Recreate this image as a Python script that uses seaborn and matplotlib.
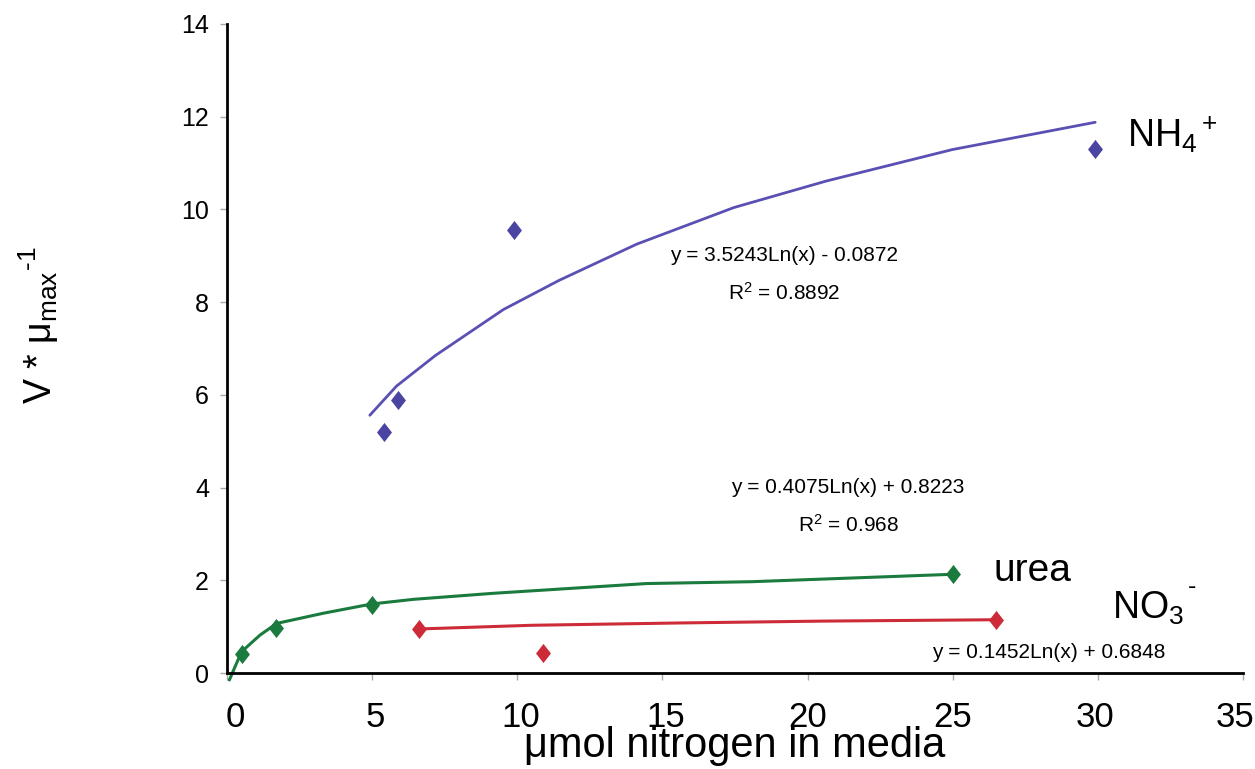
import numpy as np
import pandas as pd
import matplotlib
matplotlib.use("Agg")
import matplotlib.pyplot as plt
import matplotlib.transforms as mtransforms
import seaborn as sns

# measured uptake points
nh4_x = [5.4, 5.9, 9.9, 29.9]
nh4_y = [5.2, 5.9, 9.55, 11.3]
urea_x = [0.5, 1.7, 5.0, 25.0]
urea_y = [0.40, 0.97, 1.47, 2.13]
no3_x = [6.6, 10.9, 26.5]
no3_y = [0.95, 0.43, 1.14]

# log trendlines as drawn (vertices)
nh4_fit_x = [4.92, 5.84, 7.18, 9.52, 11.44, 14.11, 17.46, 20.63, 24.98, 29.91]
nh4_fit_y = [5.56, 6.19, 6.85, 7.84, 8.47, 9.25, 10.04, 10.61, 11.29, 11.88]
urea_fit_x = [0.08, 0.5, 1.14, 1.71, 3.32, 4.99, 6.43, 9.18, 14.45, 18.08, 25.0]
urea_fit_y = [-0.15, 0.46, 0.82, 1.07, 1.29, 1.49, 1.59, 1.72, 1.93, 1.97, 2.13]
no3_fit_x = [6.6, 10.5, 15.6, 20.5, 26.6]
no3_fit_y = [0.95, 1.03, 1.08, 1.12, 1.15]

x_ticks = [0, 5, 10, 15, 20, 25, 30, 35]
y_ticks = [0, 2, 4, 6, 8, 10, 12, 14]

NH4_PT = "#4a44a2"
NH4_LN = "#5a50b4"
UREA = "#1b7a3d"
NO3 = "#cc2b37"

# fat excel-style diamond
DIAMOND = [(0, 1), (0.78, 0), (0, -1), (-0.78, 0), (0, 1)]

sns.set_theme(style="white")
plt.rcParams["font.family"] = ["Liberation Sans", "DejaVu Sans"]
plt.rcParams["mathtext.fontset"] = "custom"
plt.rcParams["mathtext.rm"] = "Liberation Sans"
plt.rcParams["mathtext.it"] = "Liberation Sans"
plt.rcParams["mathtext.default"] = "regular"
plt.rcParams["text.color"] = "black"
plt.rcParams["axes.labelcolor"] = "black"
plt.rcParams["xtick.labelcolor"] = "black"
plt.rcParams["ytick.labelcolor"] = "black"

fig = plt.figure(figsize=(12.55, 7.69), dpi=100)
fig.patch.set_facecolor("white")
ax = fig.add_axes([0.1809, 0.1248, 0.8095, 0.844])

# trendlines
sns.lineplot(x=nh4_fit_x, y=nh4_fit_y, ax=ax, color=NH4_LN, lw=2, sort=False, estimator=None)
sns.lineplot(x=urea_fit_x, y=urea_fit_y, ax=ax, color=UREA, lw=2.2, sort=False, estimator=None)
sns.lineplot(x=no3_fit_x, y=no3_fit_y, ax=ax, color=NO3, lw=2.2, sort=False, estimator=None)
for ln in ax.lines:
    ln.set_clip_on(False)

# points
sns.scatterplot(x=nh4_x, y=nh4_y, ax=ax, color=NH4_PT, marker=DIAMOND, s=190, linewidth=0, zorder=3)
sns.scatterplot(x=urea_x, y=urea_y, ax=ax, color=UREA, marker=DIAMOND, s=190, linewidth=0, zorder=3)
sns.scatterplot(x=no3_x, y=no3_y, ax=ax, color=NO3, marker=DIAMOND, s=190, linewidth=0, zorder=3)

ax.set_xlim(0, 35)
ax.set_ylim(0, 14)
ax.set_xticks(x_ticks)
ax.set_yticks(y_ticks)
ax.set_xticklabels([str(t) for t in x_ticks], fontsize=25)
ax.set_yticklabels([str(t) for t in y_ticks], fontsize=18)
ax.tick_params(axis="x", length=5, width=1, color="#aaaaaa", pad=15, direction="out", bottom=True)
ax.tick_params(axis="y", length=5, width=1, color="#aaaaaa", pad=8, direction="out", left=True)

# small horizontal nudges of the x tick labels, as in the original
shifts = [8, 3, 3, 3, 0, 0, -3, -8]
for lab, dx in zip(ax.get_xticklabels(), shifts):
    lab.set_transform(lab.get_transform() + mtransforms.ScaledTranslation(dx / 100, 0, fig.dpi_scale_trans))

sns.despine(ax=ax)
for side in ["left", "bottom"]:
    ax.spines[side].set_color("black")
    ax.spines[side].set_linewidth(2)
ax.set_facecolor("white")

ax.set_xlabel("μmol nitrogen in media", fontsize=30, va="baseline")
ax.xaxis.set_label_coords(0.5, -0.129)
ax.set_ylabel(r"V * $\mu_{max}{}^{‐1}$", fontsize=27)
ax.yaxis.set_label_coords(-0.163, 0.536)

# series labels
ax.text(31.0, 11.6, r"NH$_4$$^+$", fontsize=27, va="center", ha="left")
ax.text(26.4, 2.2, "urea", fontsize=28, va="center", ha="left")
ax.text(30.5, 1.4, r"NO$_3$", fontsize=27, va="center", ha="left")
ax.text(33.1, 1.85, "-", fontsize=18, va="center", ha="left")

# trendline equations
ax.text(19.2, 9.0, "y = 3.5243Ln(x) - 0.0872", fontsize=15, ha="center", va="center")
ax.text(19.2, 8.2, r"R$^2$ = 0.8892", fontsize=15, ha="center", va="center")
ax.text(21.4, 4.0, "y = 0.4075Ln(x) + 0.8223", fontsize=15, ha="center", va="center")
ax.text(21.4, 3.2, r"R$^2$ = 0.968", fontsize=15, ha="center", va="center")
ax.text(28.3, 0.45, "y = 0.1452Ln(x) + 0.6848", fontsize=15, ha="center", va="center")

fig.savefig("out.png", dpi=100, facecolor="white")
